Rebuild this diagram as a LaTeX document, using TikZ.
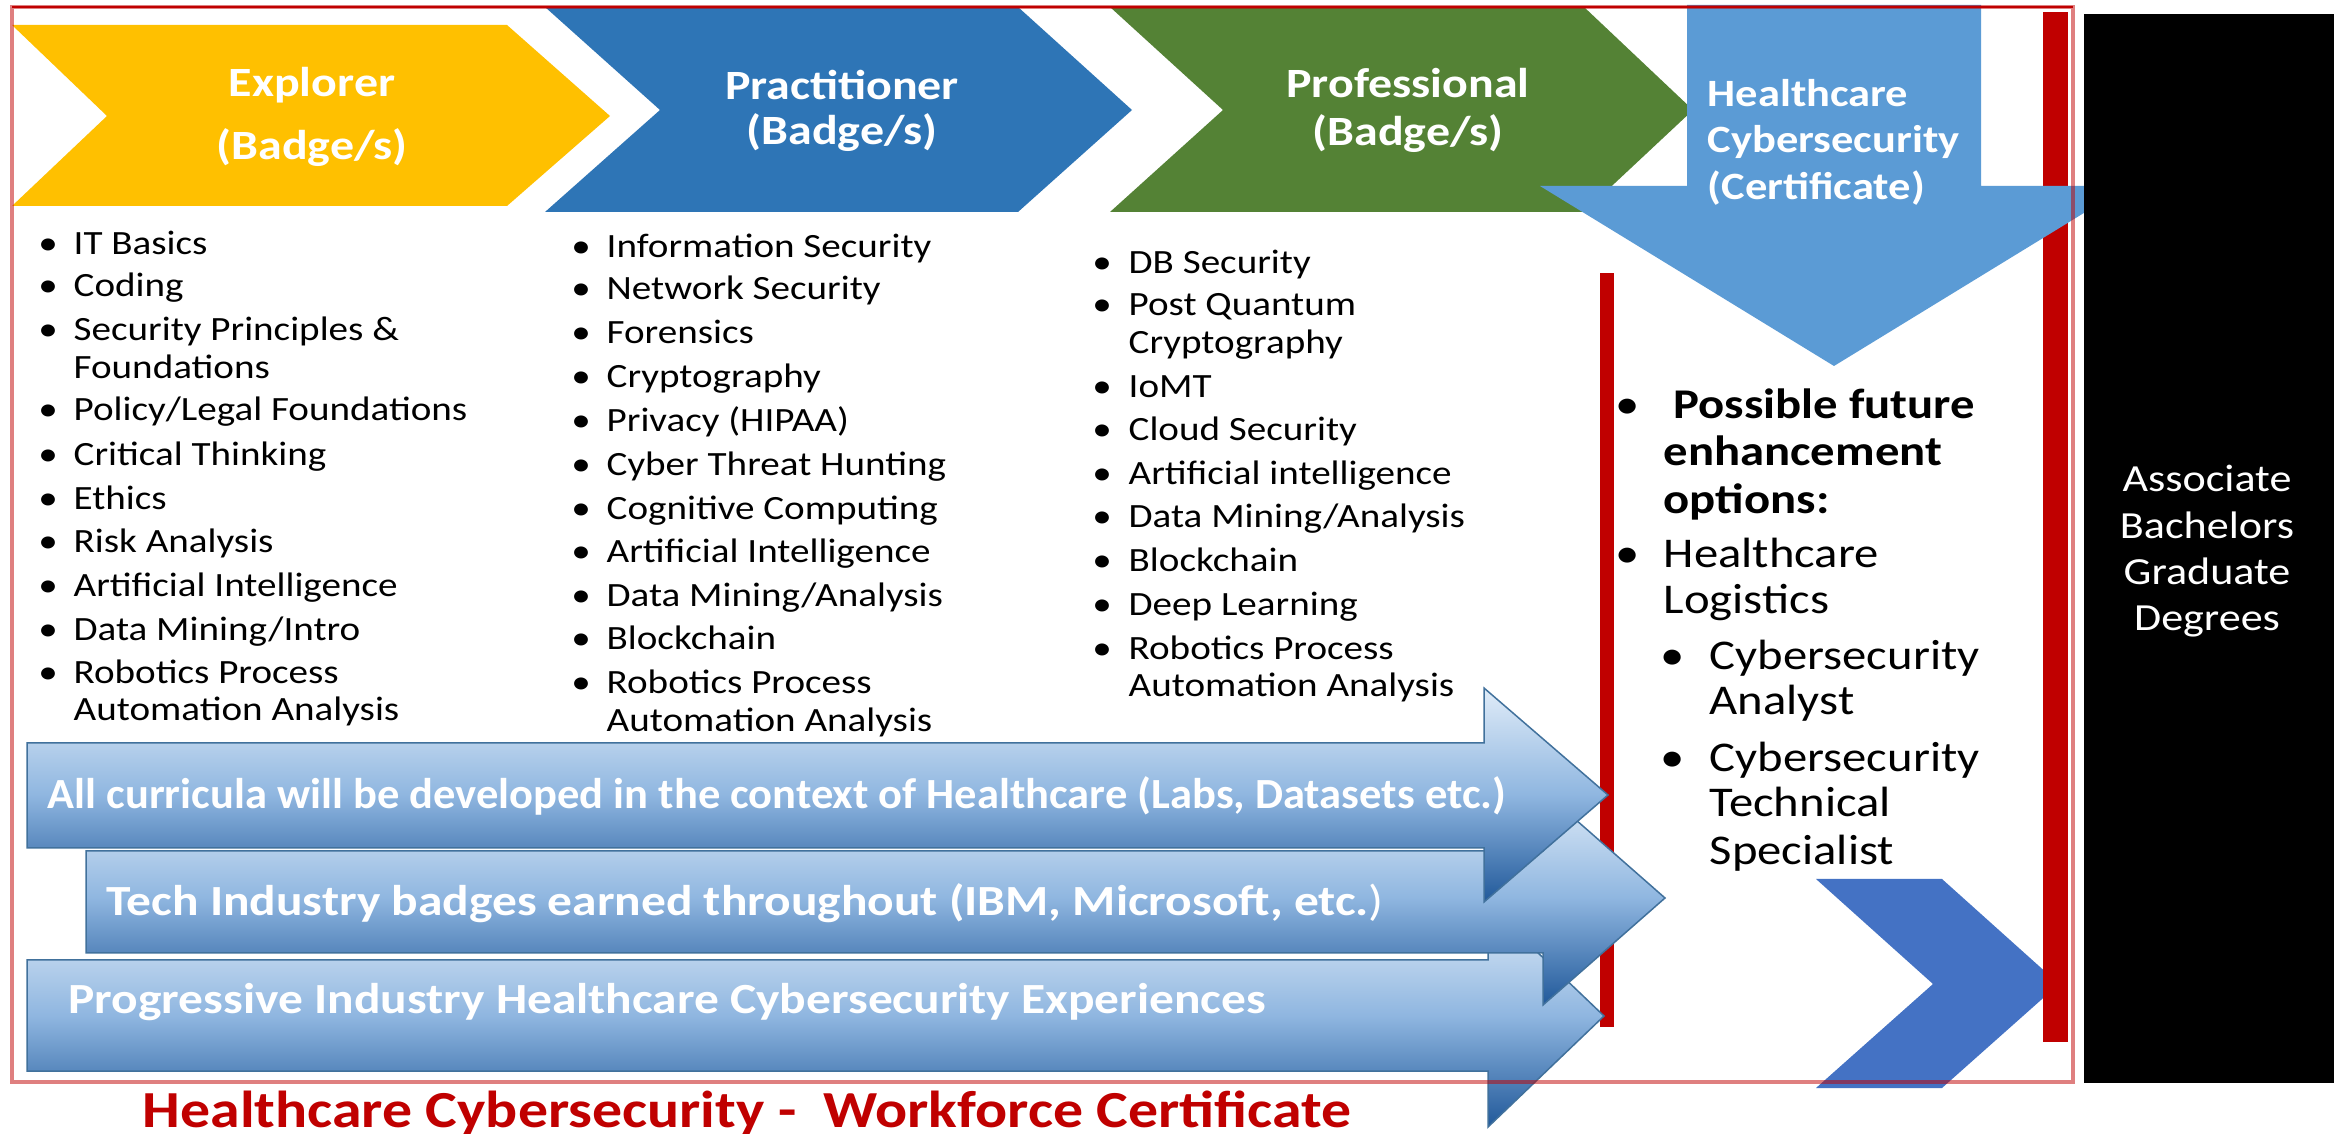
\documentclass[tikz,border=0pt]{standalone}
\usepackage{fontspec}
\setmainfont[FakeStretch=1.15]{Carlito}
\definecolor{cyellow}{HTML}{FFC000}
\definecolor{cblue}{HTML}{2E75B6}
\definecolor{cgreen}{HTML}{548235}
\definecolor{clblue}{HTML}{5B9BD5}
\definecolor{cchev}{HTML}{4472C4}
\definecolor{cred}{HTML}{C00000}
\definecolor{agtop}{HTML}{E0ECF8}
\definecolor{agmid}{HTML}{8FB6E0}
\definecolor{agbot}{HTML}{21599A}
\definecolor{cedge}{HTML}{41719C}
\newcommand\myfs[1]{\fontsize{#1}{#1}\selectfont}
\begin{document}
\begin{tikzpicture}[x=0.3pt,y=-0.3pt,
  hdr/.style={anchor=base, inner sep=0pt, text=white, font=\myfs{12.5}\bfseries},
  dtx/.style={anchor=base west, inner sep=0pt, text=white, font=\myfs{11.6}\bfseries},
  li/.style={anchor=base west, inner sep=0pt, font=\myfs{10.2}},
  bul/.style={anchor=base, inner sep=0pt, font=\myfs{10.2}},
  rp/.style={anchor=base west, inner sep=0pt, font=\myfs{12.7}},
  rpb/.style={rp, font=\myfs{12.7}\bfseries},
  rbul/.style={anchor=base, inner sep=0pt, font=\myfs{12.7}},
  deg/.style={anchor=base, inner sep=0pt, text=white, font=\myfs{11.5}},
  arr/.style={draw=cedge, line width=0.45pt, top color=agtop, bottom color=agbot, middle color=agmid},
  atx/.style={anchor=base west, inner sep=0pt, text=white, font=\myfs{12.9}\bfseries},
  ttl/.style={anchor=base west, inner sep=0pt, text=cred, font=\myfs{15.6}\bfseries}]
\useasboundingbox (0,0) rectangle (2339,1134);
\fill[white] (0,0) rectangle (2339,1134);

% header chevrons
\fill[cyellow] (12,25) -- (507,25) -- (610,116) -- (507,206) -- (12,206) -- (107,116) -- cycle;
\fill[cblue] (545,7) -- (1018,7) -- (1132,110) -- (1018,212) -- (545,212) -- (660,110) -- cycle;
\fill[cgreen] (1110,7) -- (1584,7) -- (1693,110) -- (1584,212) -- (1110,212) -- (1223,110) -- cycle;
\node[hdr] (h1a) at (312,97) {Explorer};
\node[hdr] (h1b) at (312,160) {(Badge/s)};
\node[hdr] (h2a) at (842,100) {Practitioner};
\node[hdr] (h2b) at (842,145) {(Badge/s)};
\node[hdr] (h3a) at (1408,98) {Professional};
\node[hdr] (h3b) at (1408,146) {(Badge/s)};

% bottom right chevron
\fill[cchev] (1816,879) -- (1942,879) -- (2059,984) -- (1942,1088) -- (1816,1088) -- (1933,984) -- cycle;

% red bars
\fill[cred] (2043,12) rectangle (2068,1042);
\fill[cred] (1600,273) rectangle (1614,1027);

% down arrow
\fill[clblue] (1687,5) -- (1981,5) -- (1981,186) -- (2128,186) -- (1834,366) -- (1540,186) -- (1687,186) -- cycle;
\node[dtx] (d1) at (1707,107) {Healthcare};
\node[dtx] (d2) at (1707,153) {Cybersecurity};
\node[dtx] (d3) at (1707,200) {(Certificate)};

% black box
\fill[black] (2084,14) rectangle (2334,1083);
\foreach \y/\t [count=\i] in {492/Associate, 539/Bachelors, 585/Graduate, 631/Degrees}
  \node[deg] (g\i) at (2207,\y) {\t};

% lists
\foreach \y/\b/\t [count=\i] in {255/1/{IT Basics}, 297/1/{Coding}, 341/1/{Security Principles \&},
  379/0/{Foundations}, 421/1/{Policy/Legal Foundations}, 466/1/{Critical Thinking}, 510/1/{Ethics},
  553/1/{Risk Analysis}, 597/1/{Artificial Intelligence}, 641/1/{Data Mining/Intro},
  684/1/{Robotics Process}, 721/0/{Automation Analysis}}{
  \node[li] (ex\i) at (73,\y) {\t};
  \ifnum\b=1 \node[bul] (exb\i) at (48,\y) {•};\fi
}
\foreach \y/\b/\t [count=\i] in {258/1/{Information Security}, 300/1/{Network Security}, 344/1/{Forensics},
  388/1/{Cryptography}, 432/1/{Privacy (HIPAA)}, 476/1/{Cyber Threat Hunting}, 520/1/{Cognitive Computing},
  563/1/{Artificial Intelligence}, 607/1/{Data Mining/Analysis}, 650/1/{Blockchain},
  694/1/{Robotics Process}, 732/0/{Automation Analysis}}{
  \node[li] (pr\i) at (606,\y) {\t};
  \ifnum\b=1 \node[bul] (prb\i) at (581,\y) {•};\fi
}
\foreach \y/\b/\t [count=\i] in {274/1/{DB Security}, 316/1/{Post Quantum}, 354/0/{Cryptography},
  398/1/{IoMT}, 441/1/{Cloud Security}, 485/1/{Artificial intelligence}, 528/1/{Data Mining/Analysis},
  572/1/{Blockchain}, 616/1/{Deep Learning}, 660/1/{Robotics Process}, 697/0/{Automation Analysis}}{
  \node[li] (pf\i) at (1128,\y) {\t};
  \ifnum\b=1 \node[bul] (pfb\i) at (1102,\y) {•};\fi
}

% right panel
\node[rbul] (rb1) at (1628,419) {•};
\node[rpb] (r1) at (1673,419) {Possible future};
\node[rpb] (r2) at (1663,466) {enhancement};
\node[rpb] (r3) at (1663,514) {options:};
\node[rbul] (rb2) at (1628,568) {•};
\node[rp] (r4) at (1663,568) {Healthcare};
\node[rp] (r5) at (1663,614) {Logistics};
\node[rbul] (rb3) at (1673,670) {•};
\node[rp] (r6) at (1709,670) {Cybersecurity};
\node[rp] (r7) at (1709,715) {Analyst};
\node[rbul] (rb4) at (1673,772) {•};
\node[rp] (r8) at (1709,772) {Cybersecurity};
\node[rp] (r9) at (1709,817) {Technical};
\node[rp] (r10) at (1709,865) {Specialist};

% bottom arrows
\path[arr] (27,960) -- (1488,960) -- (1488,905) -- (1604,1016) -- (1488,1127) -- (1488,1071) -- (27,1071) -- cycle;
\node[atx] (a3) at (68,1013) {Progressive Industry Healthcare Cybersecurity Experiences};
\path[arr] (86,851) -- (1543,851) -- (1543,791) -- (1665,898) -- (1543,1005) -- (1543,953) -- (86,953) -- cycle;
\node[atx] (a2) at (106,915) {Tech Industry badges earned throughout (IBM, Microsoft, etc.{\mdseries )}};
\path[arr] (27,743) -- (1484,743) -- (1484,688) -- (1608,795) -- (1484,902) -- (1484,848) -- (27,848) -- cycle;
\node[atx] (a1) at (47,809) {\scalebox{0.9}[1]{All curricula will be developed in the context of Healthcare (Labs, Datasets etc.)}};

% outer frame
\draw[cred, draw opacity=0.5, line width=1.2pt] (12,7) rectangle (2073,1082);
\draw[cred, line width=0.8pt] (12,7) -- (2073,7);

% title
\node[ttl] (title) at (142,1127) {Healthcare Cybersecurity -\ \ Workforce Certificate};
\end{tikzpicture}
\end{document}
